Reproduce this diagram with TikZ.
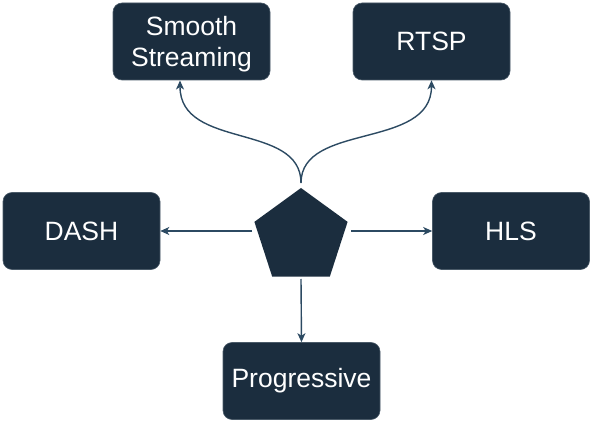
\documentclass[tikz,border=0pt]{standalone}
\usepackage{fontspec}
\setmainfont{Liberation Sans}
\usetikzlibrary{shapes.geometric,arrows.meta}
\definecolor{boxfill}{HTML}{1B2D3E}
\definecolor{boxedge}{HTML}{4A5A68}
\definecolor{linkc}{HTML}{2C4A62}
\tikzset{
  protobox/.style={draw=boxedge, line width=0.6pt, fill=boxfill, rounded corners=9pt,
    minimum width=157pt, minimum height=77pt, inner sep=0pt, text=white,
    align=center, font=\fontsize{26.5}{31.5}\selectfont},
  link/.style={draw=linkc, line width=1.4pt, -{Stealth[length=9pt,width=8pt,inset=2.5pt]}},
}
\begin{document}
\begin{tikzpicture}[x=1pt,y=-1pt]
\useasboundingbox (0,0) rectangle (592,422);
\node[protobox, text depth=0pt] (ss) at (191.5,41.5) {Smooth\\Streaming};
\node[protobox] (rtsp) at (431.5,41.5) {RTSP};
\node[protobox] (dash) at (81.5,231) {DASH};
\node[protobox] (hls) at (511,231) {HLS};
\node[protobox] (prog) at (301.5,381) {Progressive};
\node[regular polygon, regular polygon sides=5, minimum size=98pt, inner sep=0pt,
  fill=boxfill, draw=none] (pent) at (301,237) {};
\coordinate (ptop) at (301,183);
\coordinate (pleft) at (252,231);
\coordinate (pright) at (351,231);
\coordinate (pbot) at (301,279);
\coordinate (ssin) at (180,80.5);
\draw[link] (ptop) .. controls (301,122) and (180,150) .. (ssin);
\draw[link] (ptop) .. controls (301,122) and (431.5,150) .. (rtsp.south);
\draw[link] (pleft) -- (dash.east);
\draw[link] (pright) -- (hls.west);
\draw[link] (pbot) -- (prog.north);
\end{tikzpicture}
\end{document}
